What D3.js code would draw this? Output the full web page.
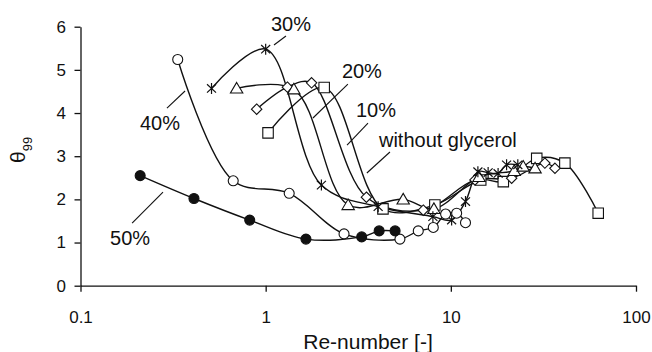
<!DOCTYPE html>
<html>
<head>
<meta charset="utf-8">
<script src="https://cdn.jsdelivr.net/npm/d3@7"></script>
<style>
  html, body { margin: 0; padding: 0; background: #fff; }
  svg { display: block; font-family: "Liberation Sans", Arial, sans-serif; }
</style>
</head>
<body>
<svg id="chart" width="652" height="352"></svg>
<script>
// Mixing time θ99 vs. Reynolds number for glycerol solutions
const xTicks = [0.1, 1, 10, 100];
const xTickLabels = ["0.1", "1", "10", "100"];
const yTicks = [0, 1, 2, 3, 4, 5, 6];

// [Re, θ99] pairs
const withoutGlycerol = [[1.03,3.54],[2.07,4.59],[4.3,1.78],[8.2,1.87],[14.5,2.45],[19.2,2.41],[29.1,2.95],[41.3,2.84],[62.5,1.68]];
const glycerol10 = [[0.894,4.09],[1.31,4.60],[1.77,4.70],[3.5,2.05],[7.1,1.75],[13.5,2.45],[21.3,2.49],[32.2,2.84],[36.5,2.72]];
const glycerol20 = [[0.697,4.57],[1.42,4.55],[2.79,1.87],[5.53,2.0],[8.1,1.78],[14.2,2.52],[22.0,2.66],[24.6,2.76],[28.5,2.72]];
const glycerol30 = [[0.51,4.57],[1.0,5.48],[2.0,2.33],[4.05,1.83],[8.0,1.60],[10.1,1.52],[12.0,1.95],[14.0,2.64],[15.9,2.62],[18.0,2.60],[20.0,2.80],[23.0,2.80]];
const glycerol40 = [[0.335,5.24],[0.668,2.43],[1.34,2.14],[2.65,1.20],[5.31,1.08],[6.67,1.27],[8.04,1.35],[9.37,1.66],[10.75,1.68],[12.0,1.46]];
const glycerol50 = [[0.21,2.55],[0.41,2.02],[0.82,1.52],[1.65,1.08],[3.3,1.13],[4.1,1.27],[5.0,1.27]];

const seriesNames = ["without glycerol", "10%", "20%", "30%", "40%", "50%"];
const seriesData = [withoutGlycerol, glycerol10, glycerol20, glycerol30, glycerol40, glycerol50];
const seriesMarkers = ["square", "diamond", "triangle", "star", "circle", "dot"];

// Curve labels with leader lines: from / to in data units, text offset from "to"
const labelText = ["30%", "20%", "10%", "without glycerol", "40%", "50%"];
const leaderFrom = [[1.109,5.576],[1.80,3.885],[2.75,3.259],[3.52,2.611],[0.367,4.510],[0.279,2.170]];
const leaderTo   = [[1.287,5.784],[2.78,4.672],[3.57,3.769],[4.69,3.097],[0.293,4.116],[0.190,1.452]];
const labelOffset = [[-15,-5.5],[-6,-5.7],[-12,-6.3],[-11,-5.3],[-27,22],[-22,22]];

const svg = d3.select("#chart");

const x = d3.scaleLog().domain([0.1, 100]).range([80.5, 636]);
const y = d3.scaleLinear().domain([0, 6]).range([285.7, 26.7]);

// Axes
const yAxis = d3.axisLeft(y).tickValues(yTicks).tickFormat(d3.format("d"))
  .tickSizeInner(6).tickSizeOuter(0).tickPadding(8.5);
const xAxis = d3.axisBottom(x).tickValues(xTicks).tickFormat((d, i) => xTickLabels[i])
  .tickSizeInner(6).tickSizeOuter(0).tickPadding(19);

const gy = svg.append("g").attr("transform", `translate(${x.range()[0]},0)`).call(yAxis);
const gx = svg.append("g").attr("transform", `translate(0,${y.range()[0]})`).call(xAxis);
[gx, gy].forEach(g => {
  g.select(".domain").attr("stroke", "#111").attr("stroke-width", 1.3);
  g.selectAll(".tick line").attr("stroke", "#111").attr("stroke-width", 1.3);
  g.selectAll(".tick text").attr("fill", "#111").attr("font-size", 17)
    .attr("font-family", "'Liberation Sans', Arial, sans-serif");
});

// Axis titles
svg.append("text")
  .attr("x", 368).attr("y", 349)
  .attr("text-anchor", "middle")
  .attr("font-size", 21).attr("fill", "#111")
  .text("Re-number [-]");

const yt = svg.append("text")
  .attr("transform", "translate(25,163) rotate(-90)")
  .attr("font-size", 21).attr("fill", "#111");
yt.append("tspan").text("θ");
yt.append("tspan").attr("font-size", 13).attr("dy", 7).text("99");

// Lines
const line = d3.line()
  .x(d => x(d[0])).y(d => y(d[1]))
  .curve(d3.curveCatmullRom.alpha(0.5));

const plot = svg.append("g");
seriesData.forEach((data, i) => {
  plot.append("path")
    .datum(data)
    .attr("d", line)
    .attr("fill", "none")
    .attr("stroke", "#111")
    .attr("stroke-width", 1.4)
    .attr("class", "series-" + i);
});

// Markers
function markerPath(type) {
  switch (type) {
    case "square": return d3.symbol(d3.symbolSquare, 110)();
    case "triangle": return "M0,-6L6.2,4.6L-6.2,4.6Z";
    case "diamond": return "M0,-5.2L5.2,0L0,5.2L-5.2,0Z";
    case "star": return "M0,-5.5V5.5M-4.5,-4.2L4.5,4.2M4.5,-4.2L-4.5,4.2";
    default: return d3.symbol(d3.symbolCircle, Math.PI * 25)();
  }
}

seriesData.forEach((data, i) => {
  const type = seriesMarkers[i];
  plot.append("g").selectAll("path")
    .data(data)
    .join("path")
    .attr("transform", d => `translate(${x(d[0])},${y(d[1])})`)
    .attr("d", markerPath(type))
    .attr("fill", type === "dot" ? "#111" : (type === "star" ? "none" : "#fff"))
    .attr("stroke", "#111")
    .attr("stroke-width", type === "star" ? 1.2 : 1.1);
});

// Curve labels
labelText.forEach((t, i) => {
  const [x1, y1] = [x(leaderFrom[i][0]), y(leaderFrom[i][1])];
  const [x2, y2] = [x(leaderTo[i][0]), y(leaderTo[i][1])];
  svg.append("line")
    .attr("x1", x1).attr("y1", y1).attr("x2", x2).attr("y2", y2)
    .attr("stroke", "#111").attr("stroke-width", 1.1);
  svg.append("text")
    .attr("x", x2 + labelOffset[i][0]).attr("y", y2 + labelOffset[i][1])
    .attr("font-size", 20).attr("fill", "#111")
    .text(t);
});
</script>
</body>
</html>
